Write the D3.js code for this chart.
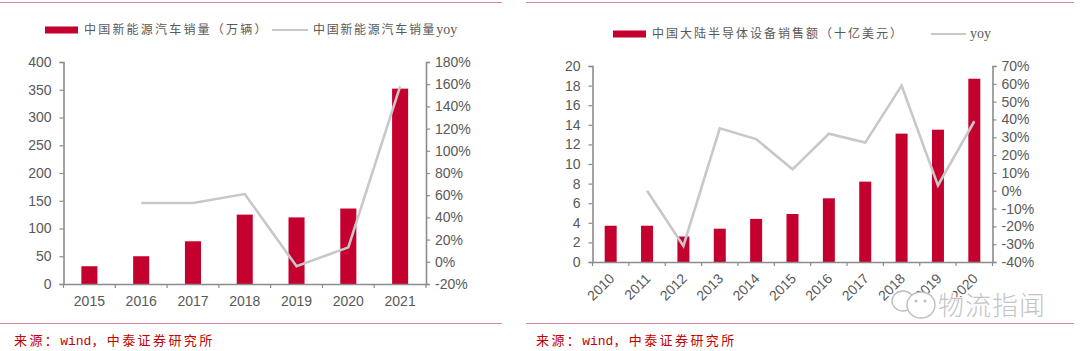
<!DOCTYPE html>
<html><head><meta charset="utf-8">
<script src="https://cdnjs.cloudflare.com/ajax/libs/d3/7.8.5/d3.min.js"></script>
<style>html,body{margin:0;padding:0;background:#fff}svg{display:block}text{font-family:"Liberation Sans",Arial,sans-serif}.cjk{font-family:"Noto Sans CJK SC",sans-serif}</style>
</head><body><svg id="c" width="1080" height="351"></svg>
<script>
const leftYears=["2015","2016","2017","2018","2019","2020","2021"];
const leftSales=[32,50,77,125,120,136,352];
const leftYoy=[null,53,53,61,-4,13,158];
const rightYears=["2010","2011","2012","2013","2014","2015","2016","2017","2018","2019","2020"];
const rightSales=[3.7,3.7,2.6,3.4,4.4,4.9,6.5,8.2,13.1,13.5,18.7];
const rightYoy=[null,0,-31,35,29,12,32,27,59,3,39];
const leftBarName="中国新能源汽车销量（万辆）", leftLineName="中国新能源汽车销量";
const rightBarName="中国大陆半导体设备销售额（十亿美元）", rightLineName="";
const lineSuffix="yoy";
const sourceParts=["来源：","wind","，中泰证券研究所"];
const watermark="物流指闻";
const RED="#c4002f",GREY="#c8c8c8",AX="#8c8c8c",TXT="#595959",RULE="#d98a9c",WM="#bdbdbd";
const svg=d3.select("#c");

function panel(o){
  const g=svg.append("g");
  const x=d3.scaleBand().domain(o.cats).range([o.x0,o.x1]).paddingInner(o.pad).paddingOuter(o.pad/2);
  const yL=d3.scaleLinear().domain(o.lDom).range([o.y0,o.y1]);
  const yR=d3.scaleLinear().domain(o.rDom).range([o.y0,o.y1]);
  g.selectAll("rect.b").data(o.bars).join("rect").attr("class","b")
    .attr("x",(d,i)=>x(o.cats[i])).attr("width",x.bandwidth())
    .attr("y",d=>yL(d)).attr("height",d=>o.y0-yL(d)).attr("fill",RED);
  const line=d3.line().defined(d=>d!==null).x((d,i)=>x(o.cats[i])+x.bandwidth()/2).y(d=>yR(d));
  const style=(a)=>{a.selectAll("path.domain").attr("stroke",AX).attr("stroke-width",1.6);
    a.selectAll("line").attr("stroke",AX).attr("stroke-width",1.2);
    a.selectAll("text").attr("fill",TXT).attr("font-size",o.fs).attr("font-family","Liberation Sans");};
  const aL=g.append("g").attr("transform",`translate(${o.x0},0)`).call(d3.axisLeft(yL).tickValues(d3.range(o.lDom[0],o.lDom[1]+1,o.lStep)).tickSize(4).tickSizeOuter(4).tickPadding(o.lPad));
  style(aL);
  const aR=g.append("g").attr("transform",`translate(${o.x1},0)`).call(d3.axisRight(yR).tickValues(d3.range(o.rDom[0],o.rDom[1]+1,o.rStep)).tickFormat(d=>d+"%").tickSize(4).tickSizeOuter(4).tickPadding(o.rPad));
  style(aR);
  const aB=g.append("g").attr("transform",`translate(0,${o.y0})`).call(d3.axisBottom(x).tickSize(0).tickPadding(o.bPad));
  style(aB);
  aB.selectAll("line.sep").data(d3.range(o.cats.length+1)).join("line").attr("class","sep")
    .attr("x1",i=>o.x0+i*(o.x1-o.x0)/o.cats.length).attr("x2",i=>o.x0+i*(o.x1-o.x0)/o.cats.length)
    .attr("y1",0).attr("y2",4).attr("stroke",AX).attr("stroke-width",1.2);
  if(o.rot){aB.selectAll(".tick text").attr("text-anchor","end").attr("x",0).attr("y",0).attr("dy","0.35em")
    .attr("transform",`translate(1,14) rotate(-45)`);}
  g.append("path").datum(o.yoy).attr("d",line).attr("fill","none").attr("stroke",GREY).attr("stroke-width",2.6);
  // legend
  g.append("rect").attr("x",o.lg.bx).attr("y",o.lg.y-3.5).attr("width",o.lg.bw).attr("height",7).attr("fill",RED);
  g.append("text").attr("class","cjk").attr("x",o.lg.tx).attr("y",o.lg.y+4).attr("font-size",12).attr("letter-spacing",o.lg.ls).attr("fill",TXT).text(o.barName);
  g.append("line").attr("x1",o.lg.lx).attr("x2",o.lg.lx+o.lg.lw).attr("y1",o.lg.y).attr("y2",o.lg.y).attr("stroke",GREY).attr("stroke-width",2);
  const lt=g.append("text").attr("class","cjk").attr("x",o.lg.ltx).attr("y",o.lg.y+4).attr("font-size",12).attr("fill",TXT);
  lt.append("tspan").attr("letter-spacing",o.lg.ls2).text(o.lineName);
  lt.append("tspan").attr("font-family","Liberation Serif").attr("font-size",14).text(lineSuffix);
  // rules & source
  [2.5,323.5].forEach(y=>g.append("line").attr("x1",o.r0).attr("x2",o.r1).attr("y1",y).attr("y2",y).attr("stroke",RULE).attr("stroke-width",1));
  const s=g.append("text").attr("class","cjk").attr("x",o.sx).attr("y",345).attr("font-size",13).attr("fill","#c00000");
  s.append("tspan").attr("letter-spacing",2.4).text(sourceParts[0]);
  s.append("tspan").attr("font-family","Liberation Mono").attr("font-size",13).text(sourceParts[1]);
  s.append("tspan").attr("letter-spacing",2.4).text(sourceParts[2]);
}
panel({cats:leftYears,bars:leftSales,yoy:leftYoy,x0:63.5,x1:426,y0:284,y1:62,pad:0.69,lDom:[0,400],lStep:50,rDom:[-20,180],rStep:20,fs:14,lPad:8,rPad:5,bPad:12,
  barName:leftBarName,lineName:leftLineName,r0:0,r1:502,sx:14,
  lg:{bx:45,bw:33,y:30,tx:84,ls:2.2,ls2:1.7,lx:272,lw:36,ltx:313}});
panel({cats:rightYears,bars:rightSales,yoy:rightYoy,x0:592.5,x1:992.5,y0:262,y1:66,pad:0.67,lDom:[0,20],lStep:2,rDom:[-40,70],rStep:10,fs:14,lPad:8,rPad:5,bPad:9,rot:true,
  barName:rightBarName,lineName:rightLineName,r0:526,r1:1074,sx:536,
  lg:{bx:613,bw:33,y:34,tx:652,ls:2,ls2:2,lx:931,lw:35,ltx:970}});
// watermark
const wm=svg.append("g").attr("fill","#fff").attr("stroke",WM).attr("stroke-width",1.4);
wm.append("ellipse").attr("cx",903).attr("cy",301).attr("rx",11).attr("ry",10);
wm.append("ellipse").attr("cx",921).attr("cy",305).attr("rx",14).attr("ry",13);
wm.append("circle").attr("cx",916).attr("cy",301).attr("r",0.8);
wm.append("circle").attr("cx",925).attr("cy",301).attr("r",0.8);
svg.append("text").attr("class","cjk").attr("x",938).attr("y",315).attr("font-size",26).attr("letter-spacing",1)
  .attr("fill","#c4c4c4").attr("stroke","#fff").attr("stroke-width",1.5).attr("paint-order","stroke").attr("font-weight",300).text(watermark);
</script></body></html>
